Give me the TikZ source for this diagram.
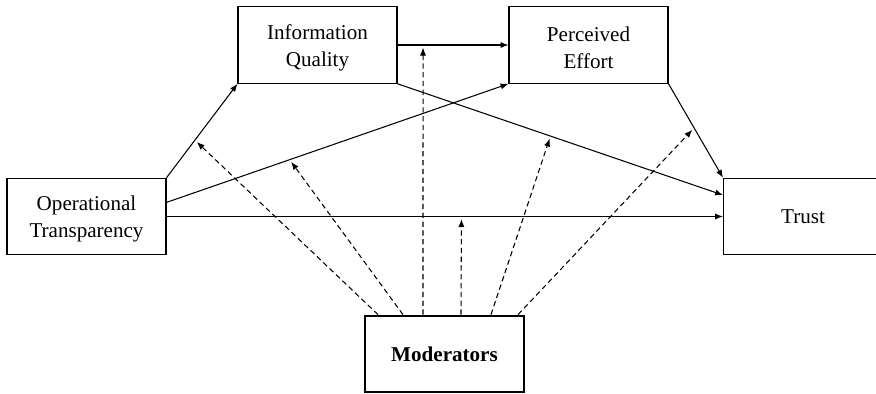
\documentclass[tikz,border=0pt]{standalone}
\usepackage{fontspec}
\setmainfont{Liberation Serif}
\usetikzlibrary{arrows.meta}

\begin{document}
\begin{tikzpicture}[x=0.02cm,y=-0.02cm]
  \tikzset{every node/.style={font=\fontsize{12}{15.3}\selectfont},
    factor/.style={draw,line width=0.6pt,minimum width=3.18cm,minimum height=1.53cm,align=center,inner sep=0pt},
    twoline/.style={factor,text height=26.5pt},
    modbox/.style={factor,line width=1.3pt,font=\fontsize{12}{15.3}\selectfont\bfseries},
    effect/.style={line width=0.6pt,-{Latex[length=4.5pt,width=3.5pt]}},
    modline/.style={effect,dash pattern=on 3pt off 2pt,shorten >=1.5pt}}
  \path[use as bounding box,clip] (0,0) rectangle (876,393);

  \node[twoline] (ot) at (86.5,216.5) {Operational\\Transparency};
  \node[twoline] (iq) at (317.5,45) {Information\\Quality};
  \node[twoline] (pe) at (588.5,45) {Perceived\\Effort};
  \node[factor] (trust) at (803,216.5) {Trust};
  \node[modbox] (mod) at (444.5,354) {Moderators};

  \draw[effect] (ot.north east) -- coordinate[pos=0.4] (m1) (iq.south west);
  \draw[effect] (ot.10) -- coordinate[pos=0.36] (m2) (pe.south west);
  \draw[effect] (iq.east) -- coordinate[pos=0.23] (m3) (pe.west);
  \draw[effect] (ot.east) -- coordinate[pos=0.53] (m4) (trust.west);
  \draw[effect] (iq.south east) -- coordinate[pos=0.47] (m5) (trust.165);
  \draw[effect] (pe.south east) -- coordinate[pos=0.47] (m6) (trust.north west);

  % moderating effects
  \foreach \dx/\m in {-66.5/m1,-41.5/m2,-21.5/m3,16.5/m4,46.5/m5,73.5/m6}
    \draw[modline] ([xshift=\dx*0.02cm]mod.north) -- (\m);
\end{tikzpicture}
\end{document}
